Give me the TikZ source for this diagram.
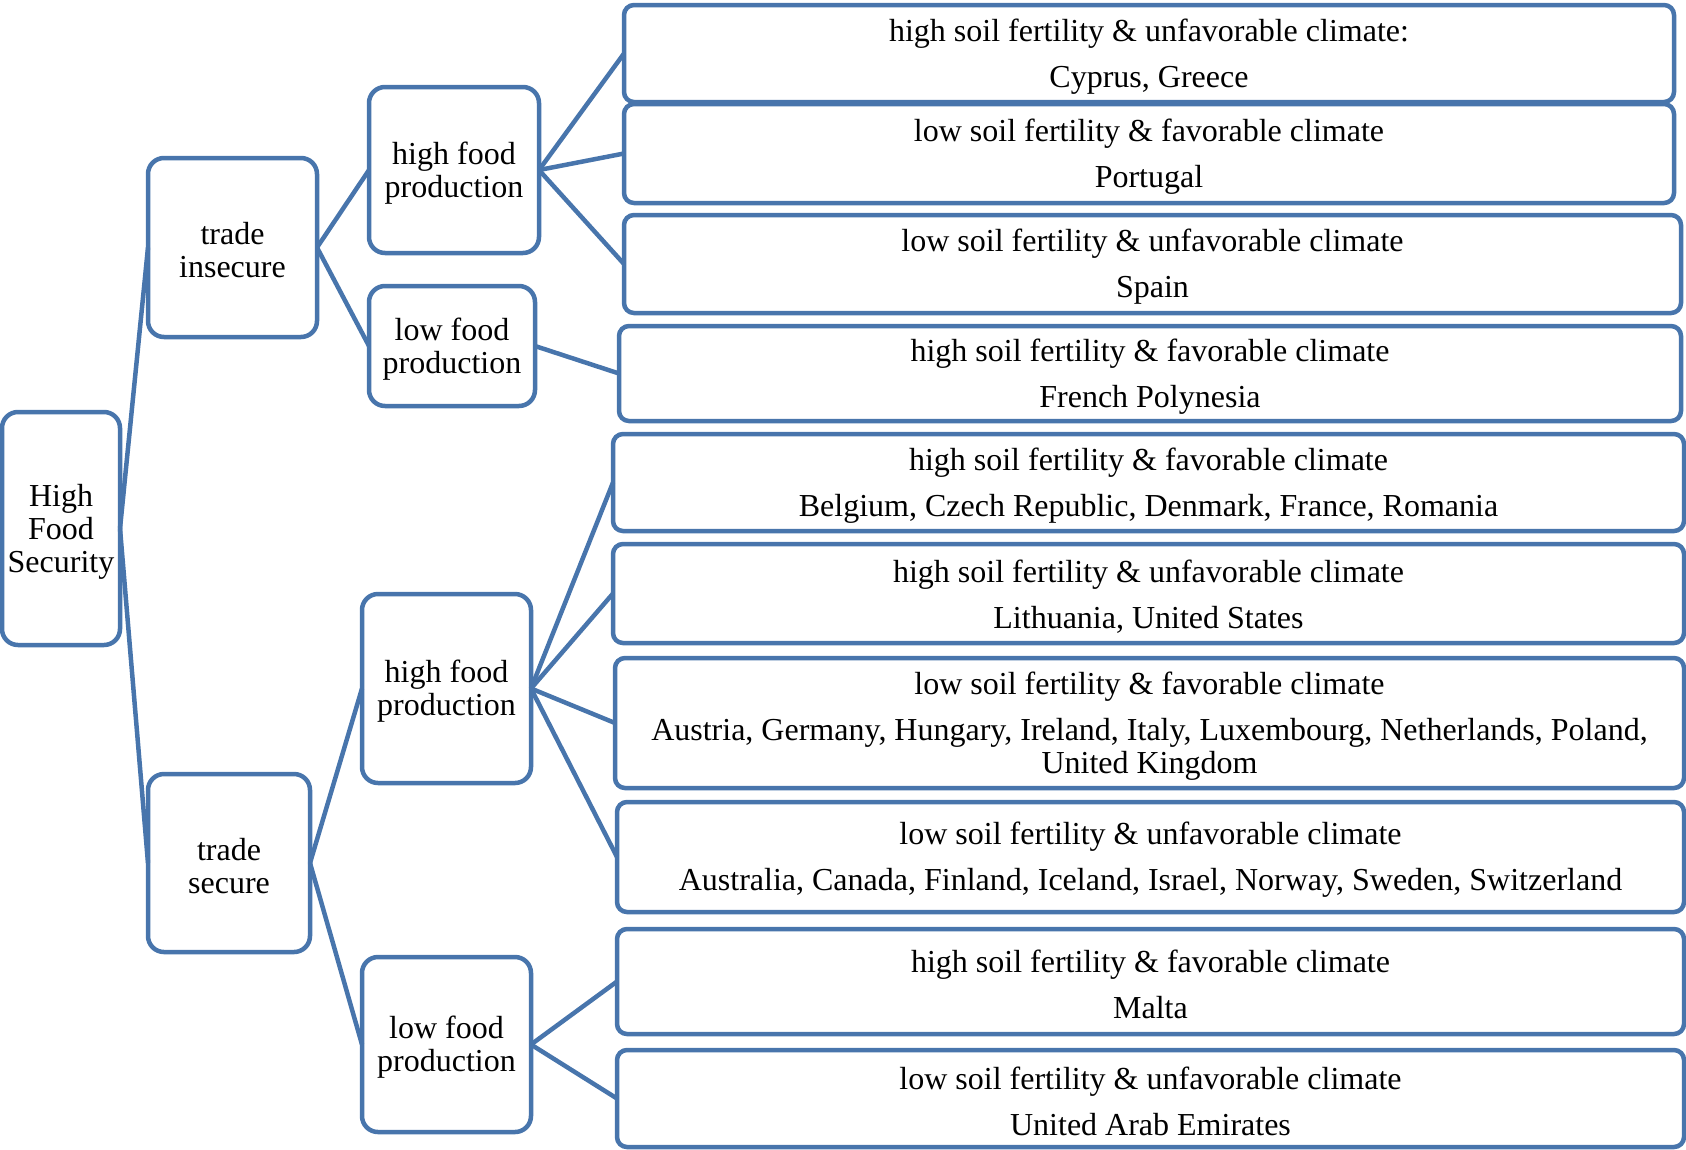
\documentclass[tikz,border=0pt]{standalone}
\usepackage{fontspec}
\setmainfont{Liberation Serif}
\definecolor{frame}{RGB}{72,117,172}
% taller first line: lowers each text block a little inside its box
\newcommand\topgap{\rule{0pt}{28pt}}
\begin{document}
\begin{tikzpicture}[x=1pt,y=-1pt,
  box/.style={draw=frame, line width=4.5pt, rounded corners=16pt, fill=white,
    align=center, inner sep=0pt, outer sep=0pt,
    font=\fontsize{32}{33}\selectfont},
  leaf/.style={box, rounded corners=10pt},
  link/.style={draw=frame, line width=4.5pt}]
\useasboundingbox (0,0) rectangle (1686,1149);

% tree levels
\node[box, minimum width=118, minimum height=233] (root) at (61,528.5) {\topgap High\\Food\\Security};
\node[box, minimum width=169, minimum height=179] (ti) at (232.5,247.5) {\topgap trade\\insecure};
\node[box, minimum width=162, minimum height=178] (ts) at (229,863) {\topgap trade\\secure};
\node[box, minimum width=170, minimum height=166] (h1) at (454,170) {\topgap high food\\production};
\node[box, minimum width=166, minimum height=120] (l1) at (452,346) {\topgap low food\\production};
\node[box, minimum width=169, minimum height=189] (h2) at (446.5,688.5) {\topgap high food\\production};
\node[box, minimum width=169, minimum height=175] (l2) at (446.5,1044.5) {\topgap low food\\production};

% country groups
\node[leaf, minimum width=1050, minimum height=97] (c1) at (1149,53.5)
  {\topgap high soil fertility \& unfavorable climate:\\[13pt]Cyprus, Greece};
\node[leaf, minimum width=1050, minimum height=99] (c2) at (1149,153.5)
  {\topgap low soil fertility \& favorable climate\\[13pt]Portugal};
\node[leaf, minimum width=1057, minimum height=98] (c3) at (1152.5,264)
  {\topgap low soil fertility \& unfavorable climate\\[13pt]Spain};
\node[leaf, minimum width=1062, minimum height=95] (c4) at (1150,373.5)
  {\topgap high soil fertility \& favorable climate\\[13pt]French Polynesia};
\node[leaf, minimum width=1071, minimum height=97] (c5) at (1148.5,482.5)
  {\topgap high soil fertility \& favorable climate\\[13pt]Belgium, Czech Republic, Denmark, France, Romania};
\node[leaf, minimum width=1071, minimum height=99] (c6) at (1148.5,593.5)
  {\topgap high soil fertility \& unfavorable climate\\[13pt]Lithuania, United States};
\node[leaf, minimum width=1069, minimum height=130] (c7) at (1149.5,723)
  {\topgap low soil fertility \& favorable climate\\[13pt]Austria, Germany, Hungary, Ireland, Italy, Luxembourg, Netherlands, Poland,\\United Kingdom};
\node[leaf, minimum width=1067, minimum height=110] (c8) at (1150.5,857)
  {\topgap low soil fertility \& unfavorable climate\\[13pt]Australia, Canada, Finland, Iceland, Israel, Norway, Sweden, Switzerland};
\node[leaf, minimum width=1067, minimum height=105] (c9) at (1150.5,981.5)
  {\topgap high soil fertility \& favorable climate\\[13pt]Malta};
\node[leaf, minimum width=1067, minimum height=97] (c10) at (1150.5,1098.5)
  {\topgap low soil fertility \& unfavorable climate\\[13pt]United Arab Emirates};

% branches
\draw[link] (root.east) -- (ti.west);
\draw[link] (root.east) -- (ts.west);
\draw[link] (ti.east) -- (h1.west);
\draw[link] (ti.east) -- (l1.west);
\draw[link] (ts.east) -- (h2.west);
\draw[link] (ts.east) -- (l2.west);
\draw[link] (h1.east) -- (c1.west);
\draw[link] (h1.east) -- (c2.west);
\draw[link] (h1.east) -- (c3.west);
\draw[link] (l1.east) -- (c4.west);
\draw[link] (h2.east) -- (c5.west);
\draw[link] (h2.east) -- (c6.west);
\draw[link] (h2.east) -- (c7.west);
\draw[link] (h2.east) -- (c8.west);
\draw[link] (l2.east) -- (c9.west);
\draw[link] (l2.east) -- (c10.west);
\end{tikzpicture}
\end{document}
